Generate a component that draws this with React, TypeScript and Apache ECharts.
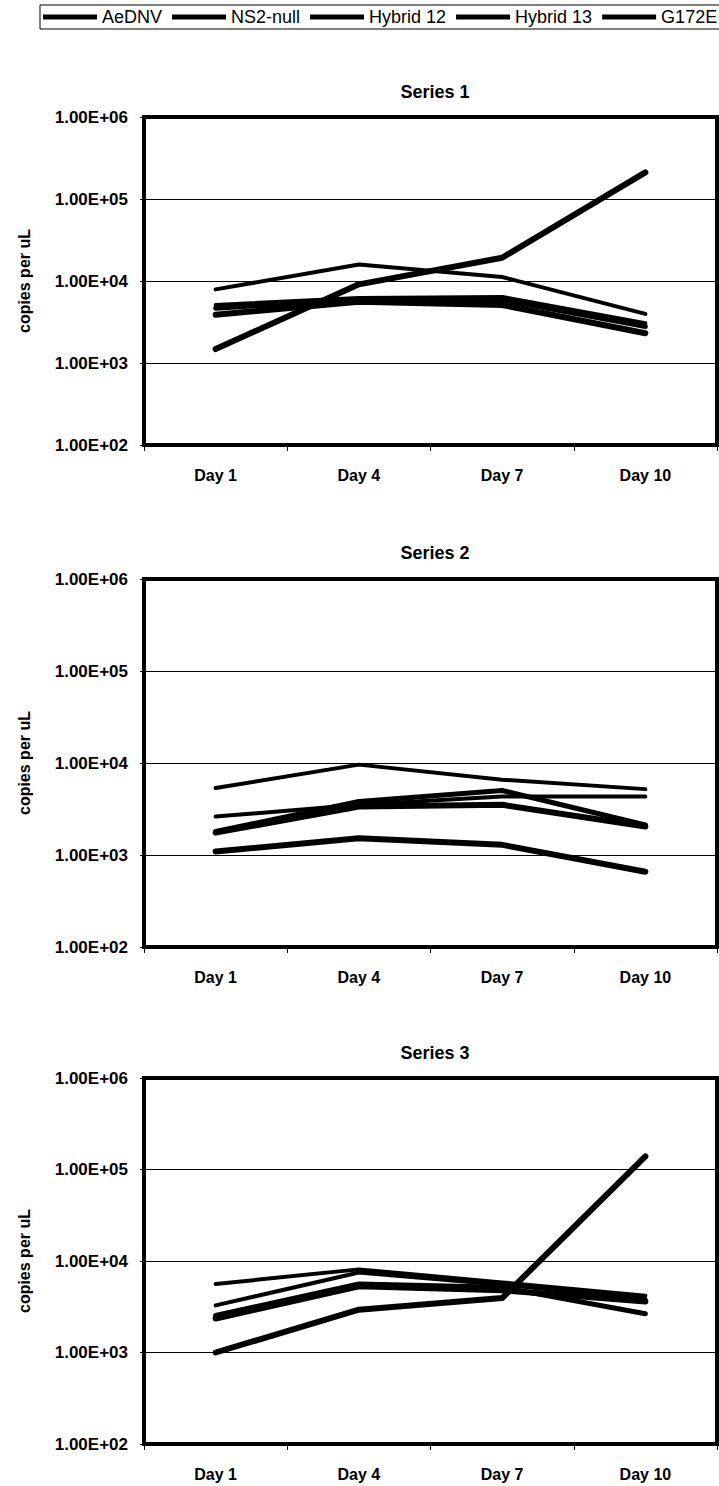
import React, { useEffect, useRef } from "react";
import * as echarts from "echarts";

const DAYS = ["Day 1", "Day 4", "Day 7", "Day 10"];
const SERIES_NAMES = ["AeDNV", "NS2-null", "Hybrid 12", "Hybrid 13", "G172E"];
const PANEL_TITLES = ["Series 1", "Series 2", "Series 3"];
const Y_TICK_LABELS = ["1.00E+02", "1.00E+03", "1.00E+04", "1.00E+05", "1.00E+06"];
const Y_NAME = "copies per uL";

// Panel 1 (Series 1)
const p1AeDNV = [1480, 9100, 19200, 211000];
const p1NS2null = [7900, 15900, 11200, 3970];
const p1Hybrid12 = [5100, 6200, 6400, 3060];
const p1Hybrid13 = [4660, 5900, 5900, 2790];
const p1G172E = [3870, 5600, 5100, 2310];

// Panel 2 (Series 2)
const p2AeDNV = [1090, 1520, 1290, 658];
const p2NS2null = [5340, 9600, 6580, 5200];
const p2Hybrid12 = [2620, 3510, 4330, 4330];
const p2Hybrid13 = [1800, 3820, 5030, 2120];
const p2G172E = [1750, 3370, 3510, 2040];

// Panel 3 (Series 3)
const p3AeDNV = [1000, 2940, 3930, 139000];
const p3NS2null = [5600, 8100, 5840, 4170];
const p3Hybrid12 = [3270, 7480, 5500, 3850];
const p3Hybrid13 = [2540, 5600, 5150, 2650];
const p3G172E = [2350, 5300, 4800, 3600];

const PANELS = [
  [p1AeDNV, p1NS2null, p1Hybrid12, p1Hybrid13, p1G172E],
  [p2AeDNV, p2NS2null, p2Hybrid12, p2Hybrid13, p2G172E],
  [p3AeDNV, p3NS2null, p3Hybrid12, p3Hybrid13, p3G172E],
];

const LINE_WIDTHS = [6, 4, 4, 5, 6];
const FONT = "'Liberation Sans', Arial, Helvetica, sans-serif";

const GRIDS = [
  { left: 144, top: 117, width: 573, height: 328 },
  { left: 144, top: 579, width: 573, height: 368 },
  { left: 144, top: 1078, width: 573, height: 366 },
];
const TITLE_TOPS = [78, 539, 1039];

function buildOption() {
  const grid = GRIDS.map((g) => ({
    ...g,
    show: true,
    borderColor: "#000",
    borderWidth: 4,
    backgroundColor: "#fff",
  }));
  const title = PANEL_TITLES.map((t, i) => ({
    text: t,
    left: 430,
    top: TITLE_TOPS[i],
    textAlign: "center",
    textStyle: { fontSize: 18, fontWeight: "bold", color: "#000", fontFamily: FONT },
  }));
  const xAxis = GRIDS.map((_, i) => ({
    type: "category",
    gridIndex: i,
    data: DAYS,
    boundaryGap: true,
    axisLine: { show: true, lineStyle: { color: "#000", width: 4 } },
    axisTick: { show: true, length: 6, lineStyle: { color: "#000", width: 1 } },
    axisLabel: { fontSize: 16, fontWeight: "bold", color: "#000", margin: 22, fontFamily: FONT },
    splitLine: { show: false },
  }));
  const yAxis = GRIDS.map((_, i) => ({
    type: "log",
    logBase: 10,
    gridIndex: i,
    min: 100,
    max: 1000000,
    splitNumber: 4,
    name: Y_NAME,
    nameLocation: "middle",
    nameGap: 112,
    nameTextStyle: { fontSize: 16, fontWeight: "bold", color: "#000", fontFamily: FONT },
    axisLine: { show: true, lineStyle: { color: "#000", width: 4 } },
    axisTick: { show: true, length: 4, lineStyle: { color: "#000", width: 1 } },
    axisLabel: {
      fontSize: 17,
      fontWeight: "bold",
      color: "#000",
      margin: 16,
      fontFamily: FONT,
      formatter: (v: number) => {
        const e = Math.round(Math.log10(v));
        return Y_TICK_LABELS[e - 2] ?? "";
      },
    },
    splitLine: { show: true, lineStyle: { color: "#000", width: 1 } },
    minorTick: { show: false },
  }));
  const series: any[] = [];
  PANELS.forEach((panel, p) => {
    panel.forEach((data, s) => {
      series.push({
        type: "line",
        name: SERIES_NAMES[s],
        xAxisIndex: p,
        yAxisIndex: p,
        data,
        symbol: "none",
        silent: true,
        lineStyle: { color: "#000", width: LINE_WIDTHS[s], cap: "round", join: "round" },
        itemStyle: { color: "#000" },
      });
    });
  });
  return {
    animation: false,
    backgroundColor: "#fff",
    title,
    legend: {
      data: SERIES_NAMES,
      left: 40,
      top: 5,
      width: 760,
      orient: "horizontal",
      icon: "rect",
      itemWidth: 54,
      itemHeight: 5,
      itemGap: 10,
      padding: [3, 3],
      borderColor: "#000",
      borderWidth: 1,
      selectedMode: false,
      textStyle: { fontSize: 18, color: "#000", fontFamily: FONT },
    },
    grid,
    xAxis,
    yAxis,
    series,
  };
}

export default function App() {
  const ref = useRef<HTMLDivElement>(null);
  useEffect(() => {
    document.body.style.margin = "0";
    const chart = echarts.init(ref.current!, null, { renderer: "svg" });
    chart.setOption(buildOption() as any);
    return () => chart.dispose();
  }, []);
  return <div ref={ref} style={{ width: 719, height: 1486 }} />;
}
